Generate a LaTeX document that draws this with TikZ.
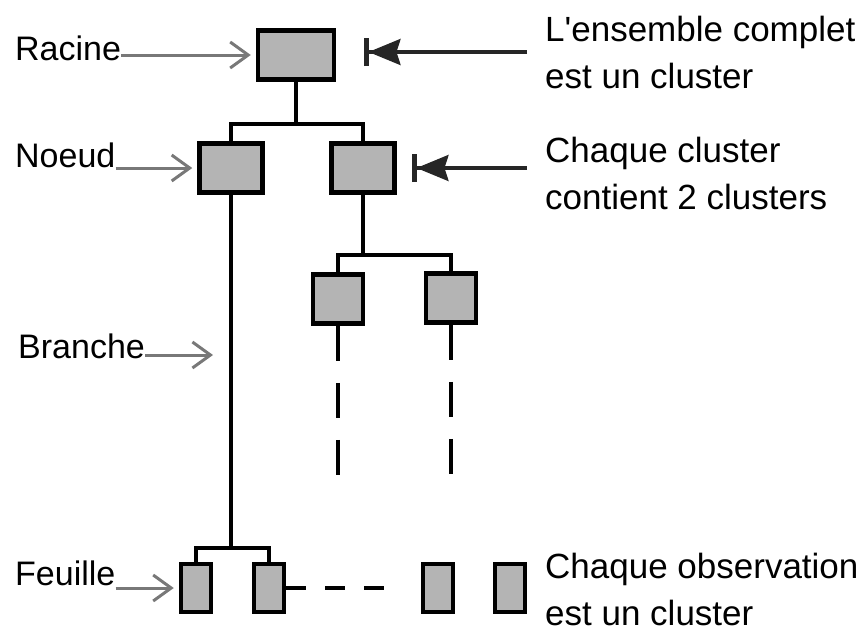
\documentclass[tikz,border=0pt]{standalone}
\usepackage{fontspec}
\setmainfont{Liberation Sans}
\usetikzlibrary{arrows.meta}
\definecolor{gris}{RGB}{180,180,180}
\definecolor{grisfleche}{RGB}{120,120,120}
\tikzset{
  boite/.style={draw, line width=4.5pt, fill=gris, inner sep=0pt},
  trait/.style={line width=3.5pt},
  etiq/.style={inner sep=0pt, font=\fontsize{34}{40}\selectfont},
  note/.style={inner sep=0pt, align=left, font=\fontsize{35}{47}\selectfont},
  renvoi/.style={grisfleche, line width=3pt, shorten >=5pt, -{Straight Barb[length=18pt,width=26pt]}},
  fleche/.style={black!85, line width=3.5pt, shorten <=18pt, -{Stealth[length=32pt,width=26pt,inset=4pt] Bar[width=28pt,line width=4.5pt]}}
}
\begin{document}
\begin{tikzpicture}[x=1pt,y=-1pt] % arbre hierarchique des clusters
\useasboundingbox (0,0) rectangle (863,632);
% les clusters
\node[boite, minimum width=76pt, minimum height=49pt] (root) at (296,55) {};
\node[boite, minimum width=63pt, minimum height=49pt] (n1) at (231,168) {};
\node[boite, minimum width=63pt, minimum height=49pt] (n2) at (363,168) {};
\node[boite, minimum width=50pt, minimum height=49pt] (n3) at (338,299) {};
\node[boite, minimum width=50pt, minimum height=49pt] (n4) at (451,298) {};
\foreach \x / \nom in {196/f1,269/f2,438/f3,510/f4}
    {\node[boite, minimum width=30pt, minimum height=48pt] (\nom) at (\x,588) {};}

% les branches
\draw[trait] (root.south) -- ++(0,42) coordinate (j1);
\draw[trait] (n1.north) |- (j1) -| (n2.north);
\draw[trait] (n2.south) -- ++(0,60) coordinate (j2);
\draw[trait] (n3.north) |- (j2) -| (n4.north);
\draw[trait] (n1.south) -- ++(0,353) coordinate (j3);
\draw[trait] (f1.north) |- (j3) -| (f2.north);
\draw[trait, dash pattern=on 35pt off 22pt] (n3.south) -- ++(0,151);
\draw[trait, dash pattern=on 35pt off 22pt] (n4.south) -- ++(0,151);
\draw[trait, dash pattern=on 20pt off 19pt] (f2.east) -- ++(98,0);

% les noms a gauche
\node[etiq, anchor=base west] (racine) at (15,60) {Racine};
\node[etiq, anchor=base west] (noeud) at (15,167) {Noeud};
\node[etiq, anchor=base west] (branche) at (18,358) {Branche};
\node[etiq, anchor=base west] (feuille) at (15,585) {Feuille};
\coordinate (br) at (218,355);
\draw[renvoi] (racine.base east |- root.west) -- (root.west);
\draw[renvoi] (noeud.base east |- n1.west) -- (n1.west);
\draw[renvoi] (branche.base east |- br) -- (br);
\draw[renvoi] (feuille.base east |- f1.west) -- (f1.west);

% les remarques a droite
\node[note, anchor=west] (note1) at (545,52) {L\textquotesingle ensemble complet\\est un cluster};
\node[note, anchor=west] (note2) at (545,173) {Chaque cluster\\contient 2 clusters};
\node[note, anchor=west] (note3) at (545,589) {Chaque observation\\est un cluster};
\coordinate (tb1) at (364,52);
\coordinate (tb2) at (412,168);
\draw[fleche] (note1.west |- tb1) -- (tb1);
\draw[fleche] (note2.west |- tb2) -- (tb2);
\end{tikzpicture}
\end{document}
